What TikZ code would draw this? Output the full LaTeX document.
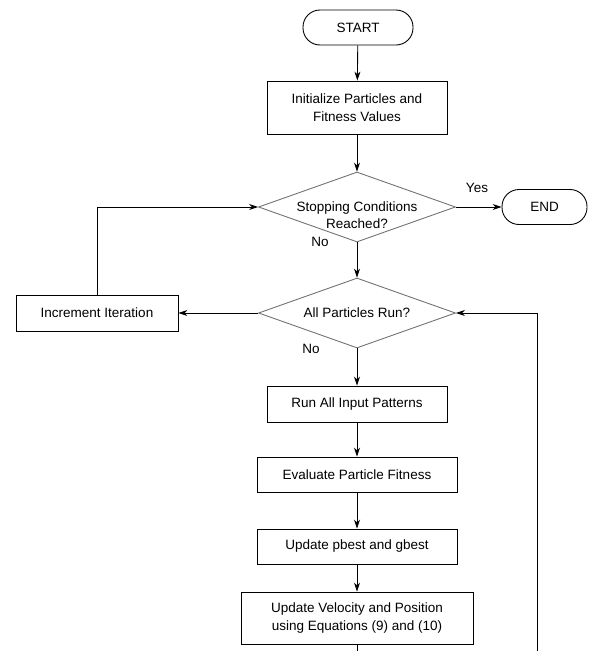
\documentclass[tikz,border=0pt]{standalone}
\usepackage{fontspec}
\setmainfont{Liberation Sans}
\usetikzlibrary{shapes.geometric,arrows.meta}
\begin{document}
\begin{tikzpicture}[
    x=1pt, y=-1pt,
    font=\fontsize{13.5}{17.5}\selectfont,
    term/.style={rectangle, rounded corners=17pt, draw, line width=0.9pt, minimum height=35pt, inner sep=0pt},
    proc/.style={rectangle, draw, line width=0.9pt, inner sep=0pt, align=center},
    decision/.style={diamond, draw=black!55, line width=0.9pt, minimum width=197pt, minimum height=70pt, inner sep=0pt},
    dtext/.style={align=center, inner sep=0pt},
    flow/.style={line width=0.9pt, -{Stealth[length=9pt,width=6pt]}},
    link/.style={line width=0.9pt},
    lbl/.style={inner sep=0pt}
]
\useasboundingbox (0,0) rectangle (592,651);

% ---- nodes ----
\node[term, minimum width=110pt] (start) at (358,27.5) {START};
\node[proc, minimum width=180pt, minimum height=53pt] (init) at (357,107.5) {Initialize Particles and\\Fitness Values};
\node[decision, label={[dtext, yshift=-8pt]center:Stopping Conditions\\Reached?}] (stop) at (357,207) {};
\node[term, minimum width=85pt] (end) at (544.5,207) {END};
\node[decision, label={[dtext]center:All Particles Run?}] (allrun) at (357,313) {};
\node[proc, minimum width=162pt, minimum height=36pt] (incr) at (97,313) {Increment Iteration};
\node[proc, minimum width=180pt, minimum height=36pt] (runall) at (357,404) {Run All Input Patterns};
\node[proc, minimum width=200pt, minimum height=35pt] (eval) at (357,474.5) {Evaluate Particle Fitness};
\node[proc, minimum width=200pt, minimum height=35pt] (pbest) at (357,546.5) {Update pbest and gbest};
\node[proc, minimum width=232pt, minimum height=52pt] (vel) at (357,618) {Update Velocity and Position\\using Equations (9) and (10)};

% ---- labels ----
\node[lbl] (yes) at (477,188) {Yes};
\node[lbl] (no1) at (320,242) {No};
\node[lbl] (no2) at (311,349) {No};

% ---- loop ends ----
\coordinate (loopA) at (357,651);
\coordinate (loopB) at (537,651);

% ---- edges ----
\draw[flow] (start) -- (init);
\draw[flow] (init) -- (stop);
\draw[flow] (stop.east) -- (end.west);
\draw[flow] (stop.south) -- (allrun.north);
\draw[flow] (allrun.west) -- (incr.east);
\draw[flow] (incr.north) |- (stop.west);
\draw[flow] (allrun.south) -- (runall.north);
\draw[flow] (runall) -- (eval);
\draw[flow] (eval) -- (pbest);
\draw[flow] (pbest) -- (vel);
\draw[link] (vel.south) -- (loopA);
\draw[flow] (loopB) |- (allrun.east);

\end{tikzpicture}
\end{document}
